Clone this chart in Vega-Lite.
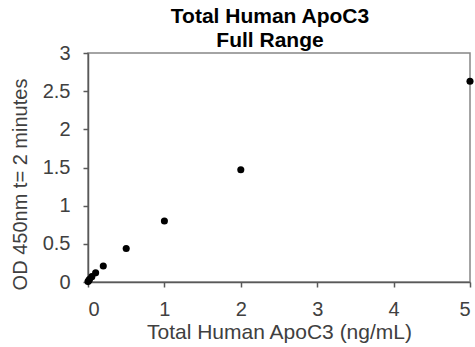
{
  "$schema": "https://vega.github.io/schema/vega-lite/v6.json",
  "width": 382,
  "height": 229,
  "autosize": "none",
  "padding": {"left": 88, "top": 53, "right": 5, "bottom": 65},
  "background": "white",
  "title": {
    "text": ["Total Human ApoC3", "Full Range"],
    "font": "Liberation Sans",
    "fontSize": 21,
    "fontWeight": "bold",
    "color": "#000000",
    "lineHeight": 24,
    "anchor": "middle",
    "baseline": "bottom",
    "offset": 0,
    "dx": -9,
    "dy": 29
  },
  "config": {
    "view": {"stroke": "#868686", "strokeWidth": 1.5},
    "axis": {
      "grid": false,
      "domainColor": "#595959",
      "domainWidth": 1.5,
      "tickColor": "#595959",
      "tickWidth": 1.5,
      "tickSize": 5,
      "labelFont": "Liberation Sans",
      "labelFontSize": 20,
      "labelColor": "#404040",
      "titleFont": "Liberation Sans",
      "titleFontSize": 20,
      "titleFontWeight": "normal",
      "titleColor": "#404040"
    }
  },
  "data": {
    "values": [
      {"conc": 5, "od": 2.63},
      {"conc": 2, "od": 1.47},
      {"conc": 1, "od": 0.8},
      {"conc": 0.5, "od": 0.44},
      {"conc": 0.2, "od": 0.21},
      {"conc": 0.1, "od": 0.12},
      {"conc": 0.05, "od": 0.07},
      {"conc": 0.02, "od": 0.035},
      {"conc": 0.01, "od": 0.02},
      {"conc": 0, "od": 0.005}
    ]
  },
  "mark": {"type": "point", "filled": true, "color": "#000000", "size": 50, "opacity": 1},
  "encoding": {
    "x": {
      "field": "conc",
      "type": "quantitative",
      "title": "Total Human ApoC3 (ng/mL)",
      "scale": {"domain": [0, 5], "nice": false, "zero": true},
      "axis": {"values": [0, 1, 2, 3, 4, 5], "format": "~g", "labelPadding": 12, "titlePadding": 2, "titleFontSize": 21}
    },
    "y": {
      "field": "od",
      "type": "quantitative",
      "title": "OD 450nm t= 2 minutes",
      "scale": {"domain": [0, 3], "nice": false},
      "axis": {"values": [0, 0.5, 1, 1.5, 2, 2.5, 3], "format": "~g", "labelPadding": 13, "titleX": -62, "titleY": 131, "titleBaseline": "alphabetic", "titleFontSize": 20}
    }
  }
}
